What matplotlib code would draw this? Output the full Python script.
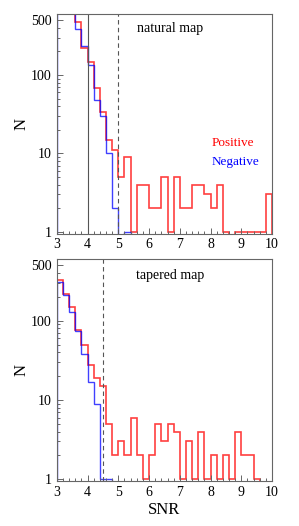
import numpy as np
import matplotlib.pyplot as plt
from matplotlib.ticker import MultipleLocator, FixedLocator, NullFormatter

plt.rcParams['font.family'] = ['Liberation Serif', 'DejaVu Serif']

# SNR bin edges, 0.2 wide from 3 to 10
edges = np.round(np.arange(3.0, 10.01, 0.2), 1)

# natural map counts
pos_natural = [2500, 1700, 1000, 470, 221, 145, 68, 34, 15, 11, 5, 9, 1, 4, 4, 2, 2, 5,
               1, 5, 2, 2, 4, 4, 3, 2, 4, 1, 0, 1, 1, 1, 1, 1, 3]
neg_natural = [2400, 1650, 950, 390, 236, 134, 48, 30, 10, 2, 0, 1, 0, 0, 0, 0, 0, 0,
               0, 0, 0, 0, 0, 0, 0, 0, 0, 0, 0, 0, 0, 0, 0, 0, 0]

# tapered map counts
pos_tapered = [328, 216, 150, 77, 49, 28, 19, 15, 5, 2, 3, 2, 6, 2, 1, 2, 5, 3,
               5, 4, 1, 3, 1, 4, 1, 2, 1, 2, 1, 4, 2, 2, 1, 0, 0]
neg_tapered = [312, 214, 130, 74, 38, 17, 9, 1, 1, 0, 0, 0, 0, 0, 0, 0, 0, 0,
               0, 0, 0, 0, 0, 0, 0, 0, 0, 0, 0, 0, 0, 0, 0, 0, 0]

ytick_vals = [1, 10, 100, 500]
ytick_labels = ['1', '10', '100', '500']

fig = plt.figure(figsize=(2.99, 5.26), dpi=100)
ax1 = fig.add_axes([0.19, 0.556, 0.72, 0.4175])
ax2 = fig.add_axes([0.19, 0.0855, 0.72, 0.422])

spine_col = '#666666'


def style(ax):
    ax.set_yscale('log')
    ax.set_xlim(3, 10)
    ax.set_ylim(0.95, 600)
    ax.xaxis.set_major_locator(MultipleLocator(1))
    ax.xaxis.set_minor_locator(MultipleLocator(0.2))
    ax.yaxis.set_major_locator(FixedLocator(ytick_vals))
    ax.set_yticklabels(ytick_labels)
    ax.yaxis.set_minor_locator(FixedLocator([2, 3, 4, 5, 6, 7, 8, 9, 20, 30, 40, 50, 60, 70, 80, 90, 200, 300, 400]))
    ax.yaxis.set_minor_formatter(NullFormatter())
    ax.tick_params(which='both', direction='in', color=spine_col, labelsize=10,
                   top=False, right=False, width=0.7)
    ax.tick_params(which='major', length=4)
    ax.tick_params(which='minor', length=2)
    for s in ax.spines.values():
        s.set_color(spine_col)
        s.set_linewidth(0.8)
    ax.set_ylabel('N', fontsize=12, labelpad=1)


ax1.stairs(pos_natural, edges, baseline=0, color='red', lw=1.2, alpha=0.75)
ax1.stairs(neg_natural, edges, baseline=0, color='blue', lw=1.0, alpha=0.75)
ax1.axvline(4, color='#555555', lw=0.8)
ax1.axvline(5, color='#555555', lw=0.8, ls=(0, (4, 3)))
style(ax1)
ax1.text(0.373, 0.932, 'natural map', transform=ax1.transAxes, fontsize=10, va='center')
ax1.text(0.72, 0.412, 'Positive', transform=ax1.transAxes, fontsize=9.5, color='red', va='center')
ax1.text(0.72, 0.327, 'Negative', transform=ax1.transAxes, fontsize=9.5, color='blue', va='center')

ax2.stairs(pos_tapered, edges, baseline=0, color='red', lw=1.2, alpha=0.75)
ax2.stairs(neg_tapered, edges, baseline=0, color='blue', lw=1.0, alpha=0.75)
ax2.axvline(4.5, color='#555555', lw=0.8, ls=(0, (4, 3)))
style(ax2)
ax2.text(0.368, 0.928, 'tapered map', transform=ax2.transAxes, fontsize=10, va='center')
ax2.set_xlabel('SNR', fontsize=12, labelpad=2)

fig.savefig('out.png', dpi=100)
